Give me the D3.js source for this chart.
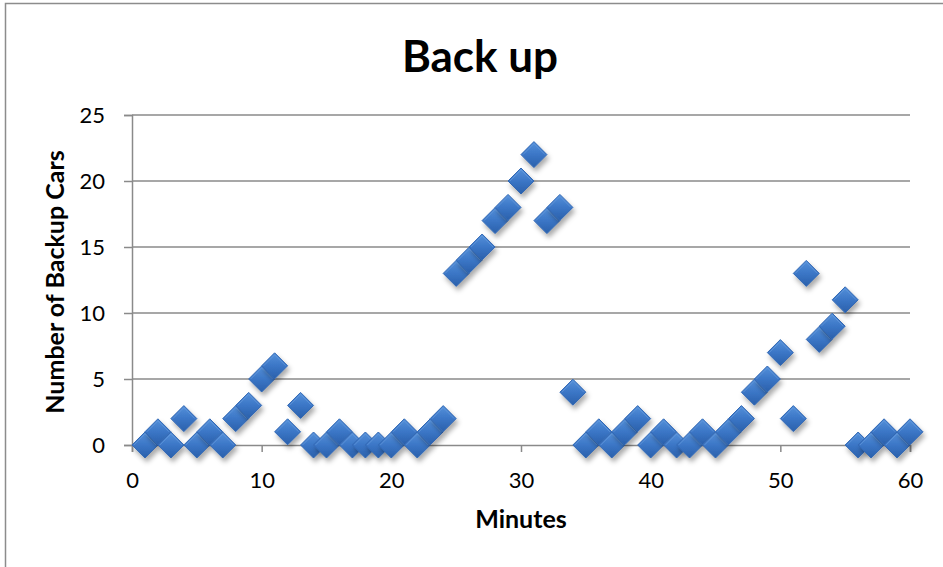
<!DOCTYPE html>
<html>
<head>
<meta charset="utf-8">
<script src="https://cdn.jsdelivr.net/npm/d3@7"></script>
<style>
  html, body { margin: 0; padding: 0; background: #fff; }
  svg { display: block; }
  text { font-family: "Lato", "Liberation Sans", sans-serif; fill: #000; }
</style>
</head>
<body>
<svg id="chart" width="943" height="567"></svg>
<script>
const minutes = [1,2,3,4,5,6,7,8,9,10,11,12,13,14,15,16,17,18,19,20,
                 21,22,23,24,25,26,27,28,29,30,31,32,33,34,35,36,37,38,39,40,
                 41,42,43,44,45,46,47,48,49,50,51,52,53,54,55,56,57,58,59,60];
const backupCars = [0,1,0,2,0,1,0,2,3,5,6,1,3,0,0,1,0,0,0,0,
                    1,0,1,2,13,14,15,17,18,20,22,17,18,4,0,1,0,1,2,0,
                    1,0,0,1,0,1,2,4,5,7,2,13,8,9,11,0,0,1,0,1];
const xTicks = [0,10,20,30,40,50,60];
const yTicks = [0,5,10,15,20,25];
const titleText = "Back up";
const xTitle = "Minutes";
const yTitle = "Number of Backup Cars";

(function () {
const svg = d3.select("#chart");
const pL = 132, pR = 910, pT = 115, pB = 445;

const x = d3.scaleLinear().domain([0, 60]).range([pL, pR]);
const y = d3.scaleLinear().domain([0, 25]).range([pB, pT]);

// chart frame
svg.append("rect").attr("x", 5.5).attr("y", 3.5).attr("width", 960).attr("height", 600)
  .attr("fill", "#fff").attr("stroke", "#8c8c8c").attr("stroke-width", 1.5);

const defs = svg.append("defs");
const grad = defs.append("linearGradient").attr("id", "dg")
  .attr("x1", 0).attr("y1", 0).attr("x2", 0).attr("y2", 1);
grad.append("stop").attr("offset", "0%").attr("stop-color", "#5591da");
grad.append("stop").attr("offset", "50%").attr("stop-color", "#3b76c6");
grad.append("stop").attr("offset", "100%").attr("stop-color", "#2a60ab");
const f = defs.append("filter").attr("id", "sh").attr("x", "-50%").attr("y", "-50%")
  .attr("width", "200%").attr("height", "200%");
f.append("feDropShadow").attr("dx", 2).attr("dy", 4).attr("stdDeviation", 2.5)
  .attr("flood-color", "#000").attr("flood-opacity", 0.33);

// gridlines
svg.append("g").selectAll("line").data(yTicks.filter(d => d > 0)).join("line")
  .attr("x1", pL).attr("x2", pR)
  .attr("y1", d => y(d)).attr("y2", d => y(d))
  .attr("stroke", "#8a8a8a").attr("stroke-width", 1.5);

// y axis
const yAxis = svg.append("g").attr("transform", `translate(${pL},0)`)
  .call(d3.axisLeft(y).tickValues(yTicks).tickSize(8).tickPadding(19));
yAxis.select(".domain").attr("stroke", "#8a8a8a").attr("stroke-width", 1.5);
yAxis.selectAll(".tick line").attr("stroke", "#8a8a8a").attr("stroke-width", 1.5);
yAxis.selectAll(".tick text").attr("font-size", 22).attr("font-family", "Lato, sans-serif");

// x axis
const xAxis = svg.append("g").attr("transform", `translate(0,${pB})`)
  .call(d3.axisBottom(x).tickValues(xTicks).tickSize(7).tickPadding(20));
xAxis.select(".domain").attr("stroke", "#8a8a8a").attr("stroke-width", 1.5);
xAxis.selectAll(".tick line").attr("stroke", "#8a8a8a").attr("stroke-width", 1.5);
xAxis.selectAll(".tick text").attr("font-size", 22).attr("font-family", "Lato, sans-serif");

// markers
const r = 13;
const diamond = `M0,${-r} L${r},0 L0,${r} L${-r},0 Z`;
const pts = minutes.map((m, i) => ({ m, v: backupCars[i] }));
const g = svg.append("g");
const mk = g.selectAll("g").data(pts).join("g")
  .attr("transform", d => `translate(${x(d.m)},${y(d.v)})`)
  .attr("filter", "url(#sh)");
mk.append("path").attr("d", diamond).attr("fill", "url(#dg)")
  .attr("stroke", "#3268b4").attr("stroke-width", 1);
mk.append("path").attr("d", `M${-r+2},0 L0,${-r+2} L${r-2},0`)
  .attr("fill", "none").attr("stroke", "#6a9fe0").attr("stroke-width", 1).attr("opacity", 0.6);

// titles
svg.append("text").attr("x", 480).attr("y", 72).attr("text-anchor", "middle")
  .attr("font-size", 44).attr("font-weight", "bold").text(titleText);
svg.append("text").attr("x", 521).attr("y", 528).attr("text-anchor", "middle")
  .attr("font-size", 25).attr("font-weight", "bold").text(xTitle);
svg.append("text").attr("transform", "translate(64,282) rotate(-90)")
  .attr("text-anchor", "middle").attr("font-size", 25).attr("font-weight", "bold").text(yTitle);
})();
</script>
</body>
</html>
